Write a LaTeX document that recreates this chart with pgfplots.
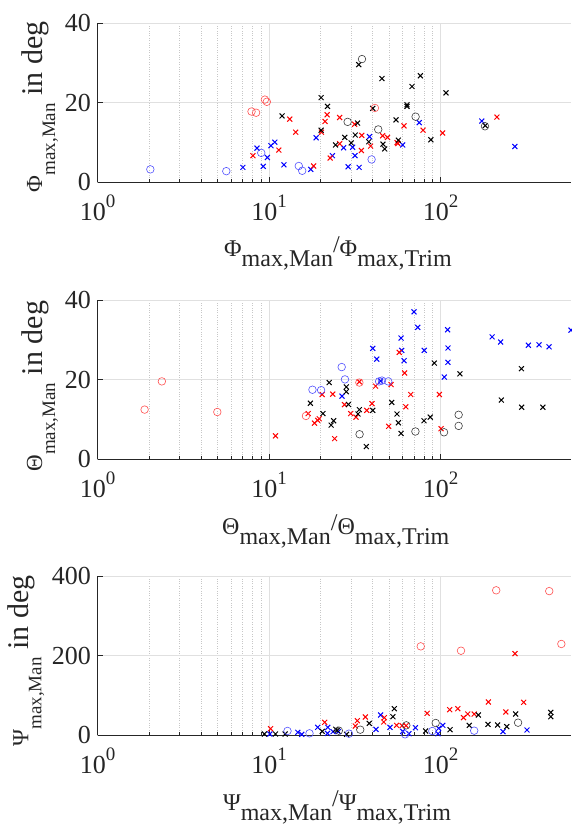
\documentclass[border=0pt]{standalone}
\usepackage{fontspec}
\setmainfont{Liberation Serif}
\usepackage{pgfplots}
\pgfplotsset{compat=1.18}
\definecolor{axgray}{RGB}{38,38,38}
\definecolor{mred}{RGB}{255,0,0}
\definecolor{mblue}{RGB}{0,0,255}
\definecolor{ored}{RGB}{255,80,80}
\definecolor{oblue}{RGB}{80,80,255}
\definecolor{oblack}{RGB}{60,60,60}

\newcommand{\tsup}[1]{\raisebox{12.5pt}{\fontsize{19}{19}\selectfont #1}}
\newcommand{\ylab}[1]{{\fontsize{23}{23}\selectfont #1}%
  \raisebox{-13pt}{\fontsize{19}{19}\selectfont max,Man}%
  {\fontsize{30}{30}\selectfont\ in deg}}
\newcommand{\xlab}[1]{{\fontsize{24}{24}\selectfont #1\raisebox{-10pt}{max,Man}\raisebox{4pt}{/}#1\raisebox{-10pt}{max,Trim}}}

\pgfplotsset{
  mypanel/.style={
    scale only axis, width=473.4pt, height=159pt,
    xmin=1, xmax=576, ymin=0,
    axis lines*=left, axis line style={axgray, line width=0.8pt},
    xtick={1,10,100},
    xticklabels={10\tsup{0},10\tsup{1},10\tsup{2}},
    xtick pos=left, ytick pos=left,
    tick align=inside, major tick length=5pt, minor tick length=3pt,
    every tick/.style={axgray, line width=0.6pt},
    xmajorgrids, ymajorgrids, xminorgrids,
    major grid style={draw=black!12, line width=0.8pt},
    minor grid style={draw=black!22, dotted, line width=0.6pt},
    ticklabel style={font=\fontsize{26}{26}\selectfont, text=axgray, inner sep=0pt},
    xticklabel style={anchor=base, yshift=-38pt},
    yticklabel style={anchor=east, xshift=-6.6pt},
    clip=false,
    label style={text=axgray, inner sep=0pt},
    xlabel style={anchor=base west},
    ylabel style={anchor=base west},
  },
  myxs/.style={only marks, mark=x, mark size=3.5pt, line width=1pt, color=#1},
  myos/.style={only marks, mark=o, mark size=3.8pt, line width=0.6pt, color=#1},
}

\begin{document}
\begin{tikzpicture}
\useasboundingbox (0,0) rectangle (571pt,829pt);

% ---- Phi ----
\begin{semilogxaxis}[mypanel, at={(97.6pt,646.7pt)}, anchor=south west,
  ymax=40, ytick={0,20,40}, yticklabels={0,20,40},
  xlabel={\xlab{Φ}}, ylabel={\ylab{Φ}},
  xlabel style={at={(axis description cs:0.267,-0.465)}},
  ylabel style={at={(axis description cs:-0.1174,-0.064)}}]
\addplot[myxs=mblue] coordinates {(7.03,3.75)(8.5,8.6)(9.25,4.0)(9.77,6.25)(10.25,9.2)(10.8,10.1)(12.2,4.4)(17.5,3.25)(18.8,11.2)(23.4,6.7)(27.2,8.7)(28.9,3.9)(30.7,8.8)(31.7,6.7)(33.5,3.75)(38.5,11.5)(60.1,9.4)(75.1,15.0)(174,15.4)(271,9.0)};
\addplot[myxs=mred] coordinates {(8.05,6.7)(11.4,8.1)(13.2,15.9)(14.3,12.6)(18.2,4.1)(20.2,12.6)(21.2,15.3)(21.8,17.0)(22.7,6.1)(25.8,16.3)(25.8,9.7)(31.5,14.6)(34.7,11.8)(34.5,8.0)(39.1,9.1)(45.9,11.7)(49,11.3)(55.7,10.0)(56.3,9.75)(61.2,14.2)(79,13.1)(102.7,12.4)(213,16.4)};
\addplot[myxs=black] coordinates {(11.9,16.7)(20.1,21.3)(21.9,19.1)(20.1,13.1)(24.4,9.4)(27.6,11.3)(33.3,29.6)(45.5,26.1)(68.1,24.1)(76.2,26.8)(107.5,22.5)(63.7,19.5)(63.7,19.1)(40.2,18.6)(32.8,14.9)(55,15.7)(31.8,11.9)(30.1,9.9)(38.1,10.2)(46.1,9.6)(47.2,8.4)(56.7,10.6)(87.7,10.7)(182,14.25)};
\addplot[myos=oblue] coordinates {(2.03,3.25)(5.63,2.8)(9.0,7.4)(14.9,4.1)(15.6,2.9)(39.6,5.75)};
\addplot[myos=ored] coordinates {(7.9,17.8)(8.4,17.5)(9.45,20.8)(9.7,20.25)(41.4,18.7)};
\addplot[myos=oblack] coordinates {(28.7,15.2)(34.8,31.0)(43.3,13.3)(71.5,16.5)(181.5,14.1)};
\end{semilogxaxis}

% ---- Theta ----
\begin{semilogxaxis}[mypanel, at={(97.6pt,369.7pt)}, anchor=south west,
  ymax=40, ytick={0,20,40}, yticklabels={0,20,40},
  xlabel={\xlab{Θ}}, ylabel={\ylab{Θ}},
  xlabel style={at={(axis description cs:0.2628,-0.475)}},
  ylabel style={at={(axis description cs:-0.1174,-0.078)}}]
\addplot[myxs=mblue] coordinates {(26.6,15.9)(40.2,27.9)(42.4,25.2)(44.7,19.7)(58.8,30.5)(59.3,27.4)(61.2,24.8)(70,37.1)(73.6,33.2)(80.3,27.4)(105.1,20.7)(109.9,32.6)(110.4,28.0)(110.4,24.4)(199.7,30.8)(224,29.5)(325,28.7)(375,28.8)(429,28.3)(576,32.5)};
\addplot[myxs=mred] coordinates {(10.9,5.9)(16.9,11.5)(18.4,9.1)(19.2,9.8)(19.6,10.2)(20.4,16.3)(23.5,16.4)(24.1,5.2)(27.5,13.75)(29.9,11.5)(32.1,10.6)(33.6,19.5)(37.1,12.3)(39.8,14.0)(41.8,18.4)(49.8,8.3)(51.4,18.8)(57.4,26.9)(61.7,21.7)(62.7,13.2)(67,16.3)(98.4,16.3)(100.6,7.7)};
\addplot[myxs=black] coordinates {(17.4,14.1)(20.6,11.5)(22.4,19.3)(23.0,8.6)(23.8,9.7)(28.2,18.2)(28.2,17.0)(29.0,13.8)(33.0,11.4)(33.6,12.5)(36.9,3.2)(40.2,12.3)(51.9,14.3)(55.7,11.4)(56.7,9.2)(58.8,6.5)(80,9.7)(87,10.6)(91.9,24.2)(129.6,21.5)(226,14.9)(296,22.8)(297,13.1)(395,13.1)};
\addplot[myos=oblue] coordinates {(17.9,17.5)(20.1,17.4)(26.5,23.2)(27.7,20.1)(43.8,19.6)(45.5,19.8)(49.5,19.6)};
\addplot[myos=ored] coordinates {(1.88,12.5)(2.37,19.6)(4.99,11.9)(16.4,10.9)(33.6,19.3)};
\addplot[myos=oblack] coordinates {(33.7,6.3)(71.3,7.0)(104.7,6.8)(127.4,11.2)(127.4,8.4)};
\end{semilogxaxis}

% ---- Psi ----
\begin{semilogxaxis}[mypanel, at={(97.6pt,94pt)}, anchor=south west,
  ymax=400, ytick={0,200,400}, yticklabels={0,200,400},
  xlabel={\xlab{Ψ}}, ylabel={\ylab{Ψ}},
  xlabel style={at={(axis description cs:0.2647,-0.472)}},
  ylabel style={at={(axis description cs:-0.1464,-0.074)}}]
\addplot[myxs=mblue] coordinates {(10.1,2.5)(14.7,6.7)(15.5,1.7)(19.2,19.3)(21.9,4.2)(22,19.3)(23.6,8.4)(25.3,8.4)(42,14.3)(44.7,50.3)(50.7,19.3)(60.1,9.2)(65.4,3.3)(71.3,18.4)(96.6,3.3)(97.4,16.8)(103,24.3)(231,8.4)(319,12.6)};
\addplot[myxs=mred] coordinates {(10.2,15.9)(21.1,31.9)(31.8,22.5)(32.7,36)(36.4,45.3)(46.6,32.7)(47,43.6)(55.4,24.3)(59.6,23.5)(62.9,23.5)(83.5,54.5)(113,63.7)(126,66.2)(136,43.6)(144,52.8)(157,52.8)(190,83)(240,57.9)(271.5,204.6)(305,82.2)};
\addplot[myxs=black] coordinates {(9.38,2.5)(10.9,2.5)(12.4,2.5)(20.4,9.2)(24.5,14.3)(25,11.7)(28.3,1.7)(38.4,29.3)(52.7,46.1)(53.7,66.2)(81.8,10)(113.5,13.4)(147,24.3)(166,50.3)(189,26.8)(215,25.2)(243,21)(274,52.8)(439,57)(439,46.1)};
\addplot[myos=oblue] coordinates {(12.8,10.1)(17.2,4.2)(29.2,3.3)(62.1,1.7)(89.5,10)(157,10.9)};
\addplot[myos=ored] coordinates {(76.6,223)(131.5,212)(211,364)(430,362)(506,229)};
\addplot[myos=oblack] coordinates {(25.5,10.9)(34,13.4)(63.1,24.3)(93.6,30.2)(283,31)};
\end{semilogxaxis}
\end{tikzpicture}
\end{document}
